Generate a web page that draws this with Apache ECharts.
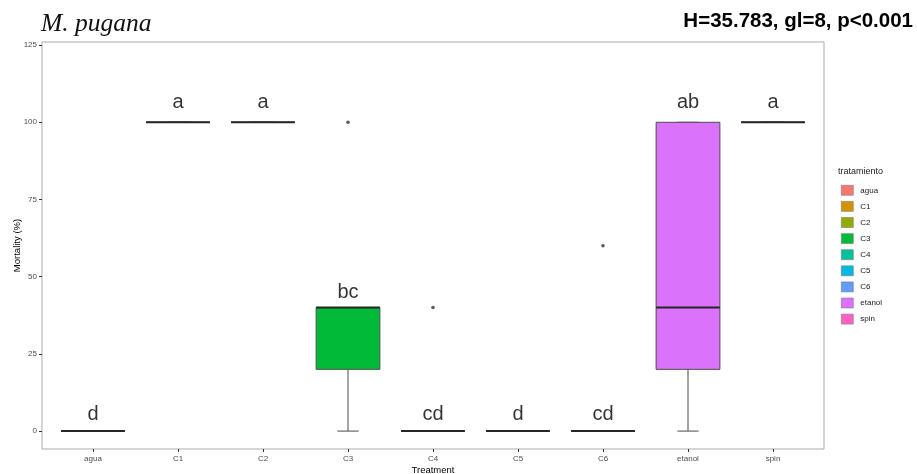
<!DOCTYPE html>
<html><head><meta charset="utf-8">
<script src="https://cdn.jsdelivr.net/npm/echarts@6/dist/echarts.min.js"></script>
<style>html,body{margin:0;padding:0;background:#fff}#c{width:917px;height:474px}</style>
</head><body><div id="c"></div>
<script>
const categories = ['agua','C1','C2','C3','C4','C5','C6','etanol','spin'];
const whiskerLow  = [0,100,100, 0,0,0,0,  0,100];
const q1          = [0,100,100,20,0,0,0, 20,100];
const median      = [0,100,100,40,0,0,0, 40,100];
const q3          = [0,100,100,40,0,0,0,100,100];
const whiskerHigh = [0,100,100,40,0,0,0,100,100];
const outlierCats   = ['C3','C4','C6'];
const outlierValues = [100,40,60];
const letters      = ['d','a','a','bc','cd','d','cd','ab','a'];
const letterValues = [5.5,106.5,106.5,45,5.5,5.5,5.5,106.5,106.5];
const yTicks = [0,25,50,75,100,125];
const colors = ['#F8766D','#D39200','#93AA00','#00BA38','#00C19F','#00B9E3','#619CFF','#DB72FB','#FF61C3'];

const chart = echarts.init(document.getElementById('c'));

function renderBox(params, api){
  const x = api.value(0);
  const band = api.size([1,0])[0];
  const bw = band*0.75, cw = band*0.25;
  const pMin = api.coord([x, api.value(1)]);
  const pQ1 = api.coord([x, api.value(2)]);
  const pMed = api.coord([x, api.value(3)]);
  const pQ3 = api.coord([x, api.value(4)]);
  const pMax = api.coord([x, api.value(5)]);
  const cx = pMed[0];
  const ws = {stroke:'#4d4d4d', lineWidth:1};
  const ch = [];
  ch.push({type:'line', shape:{x1:cx-cw/2,y1:pMin[1],x2:cx+cw/2,y2:pMin[1]}, style:ws});
  ch.push({type:'line', shape:{x1:cx-cw/2,y1:pMax[1],x2:cx+cw/2,y2:pMax[1]}, style:ws});
  ch.push({type:'line', shape:{x1:cx,y1:pMin[1],x2:cx,y2:pQ1[1]}, style:ws});
  ch.push({type:'line', shape:{x1:cx,y1:pQ3[1],x2:cx,y2:pMax[1]}, style:ws});
  ch.push({type:'rect', shape:{x:cx-bw/2,y:pQ3[1],width:bw,height:pQ1[1]-pQ3[1]},
           style:{fill:api.visual('color'), stroke:'#4d4d4d', lineWidth:1}});
  ch.push({type:'line', shape:{x1:cx-bw/2,y1:pMed[1],x2:cx+bw/2,y2:pMed[1]},
           style:{stroke:'#262626', lineWidth:2}});
  return {type:'group', children:ch};
}

const boxSeries = categories.map((c,i)=>({
  name:c, type:'custom', xAxisIndex:1, yAxisIndex:1,
  itemStyle:{color:colors[i], borderColor:'#666', borderWidth:0.6},
  encode:{x:0, y:[1,2,3,4,5]},
  renderItem:renderBox,
  data:[[c, whiskerLow[i], q1[i], median[i], q3[i], whiskerHigh[i]]],
  silent:true
}));

const axisLabelStyle = {color:'#4d4d4d', fontSize:8, fontFamily:'Liberation Sans, Arial'};

chart.setOption({
  animation:false,
  title:[
    {text:'M. pugana', left:41, top:11, padding:0, textStyle:{fontFamily:'Liberation Serif, Times New Roman', fontStyle:'italic', fontWeight:'normal', fontSize:25.5, color:'#111'}},
    {text:'H=35.783, gl=8, p<0.001', right:4, top:11, padding:0, textStyle:{fontFamily:'Liberation Sans, Arial', fontWeight:'bold', fontSize:20.5, color:'#000'}},
    {text:'tratamiento', left:838, top:167, padding:0, textStyle:{fontFamily:'Liberation Sans, Arial', fontWeight:'normal', fontSize:9, color:'#1a1a1a'}}
  ],
  legend:{
    orient:'vertical', left:841, top:185, padding:0, itemWidth:12, itemHeight:10, itemGap:5.5,
    icon:'rect', data:categories,
    itemStyle:{borderColor:'#7f7f7f', borderWidth:0.6},
    textStyle:{fontSize:8, color:'#1a1a1a', fontFamily:'Liberation Sans, Arial', padding:[0,0,0,2]}
  },
  grid:[
    {left:42, top:42, width:782, height:407, show:true, borderColor:'#ababab', borderWidth:1, backgroundColor:'transparent', outerBoundsMode:'none', containLabel:false},
    {left:50.5, top:42, width:765, height:407, outerBoundsMode:'none', containLabel:false}
  ],
  xAxis:[
    {gridIndex:0, type:'value', min:0, max:1, show:false},
    {gridIndex:1, type:'category', data:categories,
     axisLine:{show:false, onZero:false},
     axisTick:{show:true, alignWithLabel:true, length:3, lineStyle:{color:'#333'}},
     axisLabel:Object.assign({margin:6, interval:0}, axisLabelStyle),
     name:'Treatment', nameLocation:'middle', nameGap:16, nameMoveOverlap:false,
     nameTextStyle:{fontSize:9.5, color:'#000', fontFamily:'Liberation Sans, Arial'}}
  ],
  yAxis:[
    {gridIndex:0, type:'value', min:-5.8, max:126,
     axisLine:{show:false, onZero:false}, splitLine:{show:false},
     axisTick:{show:true, length:3, lineStyle:{color:'#333'}, customValues:yTicks},
     axisLabel:Object.assign({margin:5, customValues:yTicks}, axisLabelStyle),
     name:'Mortality (%)', nameLocation:'middle', nameRotate:90, nameGap:20, nameMoveOverlap:false,
     nameTextStyle:{fontSize:9.5, color:'#000', fontFamily:'Liberation Sans, Arial'}},
    {gridIndex:1, type:'value', min:-5.8, max:126, show:false}
  ],
  series: boxSeries.concat([
    {type:'scatter', xAxisIndex:1, yAxisIndex:1, symbolSize:3.6, silent:true,
     itemStyle:{color:'#333'},
     data:outlierCats.map((c,i)=>[c, outlierValues[i]])},
    {type:'scatter', xAxisIndex:1, yAxisIndex:1, symbolSize:0, silent:true,
     label:{show:true, position:'inside', fontSize:20, color:'#000', fontFamily:'Liberation Sans, Arial',
            formatter:p=>letters[p.dataIndex]},
     data:categories.map((c,i)=>[c, letterValues[i]])}
  ])
});
</script></body></html>
